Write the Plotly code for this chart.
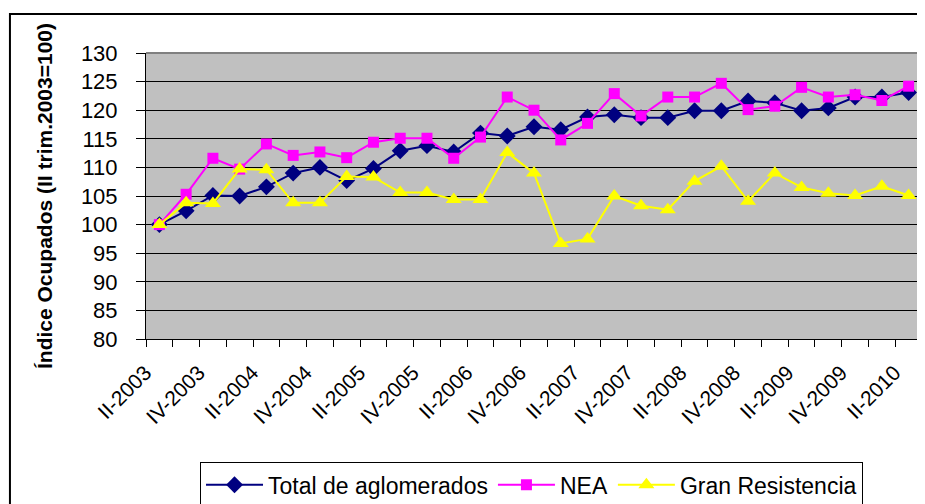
import plotly.graph_objects as go

quarters = ["II-2003", "III-2003", "IV-2003",
            "I-2004", "II-2004", "III-2004", "IV-2004",
            "I-2005", "II-2005", "III-2005", "IV-2005",
            "I-2006", "II-2006", "III-2006", "IV-2006",
            "I-2007", "II-2007", "III-2007", "IV-2007",
            "I-2008", "II-2008", "III-2008", "IV-2008",
            "I-2009", "II-2009", "III-2009", "IV-2009",
            "I-2010", "II-2010"]

total_aglomerados = [100.0, 102.4, 105.1, 105.0, 106.6, 109.0, 110.0, 107.7, 109.8, 112.9,
                     113.8, 112.7, 116.0, 115.5, 117.1, 116.6, 118.8, 119.2, 118.7, 118.7,
                     119.9, 119.9, 121.6, 121.3, 119.9, 120.4, 122.3, 122.3, 123.1]
nea = [100.0, 105.3, 111.6, 109.7, 114.1, 112.1, 112.7, 111.7, 114.4, 115.1,
       115.1, 111.6, 115.3, 122.3, 120.0, 114.8, 117.7, 122.9, 119.0, 122.3,
       122.3, 124.7, 120.1, 120.7, 124.0, 122.3, 122.7, 121.7, 124.2]
gran_resistencia = [100.0, 103.8, 103.7, 109.7, 109.6, 103.8, 103.8, 108.4, 108.3, 105.6,
                    105.6, 104.4, 104.4, 112.6, 109.0, 96.7, 97.5, 105.0, 103.3, 102.6,
                    107.6, 110.2, 104.1, 109.0, 106.5, 105.5, 105.1, 106.7, 105.1]

tick_text = [q if i % 2 == 0 else "" for i, q in enumerate(quarters)]

FONT = "Arial, Liberation Sans, sans-serif"
OFF = 8  # default page body margin
W, H = 925 - OFF, 504 - OFF
L = 146 - OFF
T = 53 - OFF
R = W - (921.7 - OFF)
B = H - (339.5 - OFF)
pw = W - L - R
ph = H - T - B

def px_x(p):
    return (p - OFF - L) / pw

def px_y(p):
    return (H - B - (p - OFF)) / ph

fig = go.Figure()
fig.add_trace(go.Scatter(x=quarters, y=total_aglomerados, name="Total de aglomerados",
                         mode="lines+markers",
                         line=dict(color="#000080", width=2),
                         marker=dict(symbol="diamond", size=13, color="#000080")))
fig.add_trace(go.Scatter(x=quarters, y=nea, name="NEA",
                         mode="lines+markers",
                         line=dict(color="#FF00FF", width=2),
                         marker=dict(symbol="square", size=11, color="#FF00FF")))
fig.add_trace(go.Scatter(x=quarters, y=gran_resistencia, name="Gran Resistencia",
                         mode="lines+markers",
                         line=dict(color="#FFFF00", width=2),
                         marker=dict(symbol="triangle-up", size=14, color="#FFFF00")))

fig.update_layout(
    width=W, height=H,
    margin=dict(l=L, r=R, t=T, b=B, autoexpand=False),
    paper_bgcolor="white",
    plot_bgcolor="#C0C0C0",
    font=dict(family=FONT, size=21, color="black"),
    showlegend=True,
    legend=dict(orientation="h", x=px_x(200), y=px_y(463), xanchor="left", yanchor="top",
                bgcolor="white", bordercolor="black", borderwidth=1,
                font=dict(family=FONT, size=23, color="black"),
                itemwidth=57, tracegroupgap=0),
    xaxis=dict(type="category", categoryorder="array", categoryarray=quarters,
               tickmode="array", tickvals=quarters, ticktext=tick_text,
               tickson="boundaries", ticks="outside", ticklen=7, tickcolor="black",
               tickangle=-45, showgrid=False, showline=True, linecolor="black",
               linewidth=1, tickfont=dict(family=FONT, size=21, color="black"),
               ticklabelshift=-14, ticklabelstandoff=12,
               range=[-0.5, len(quarters) - 0.5]),
    yaxis=dict(range=[80, 130], dtick=5, tick0=80, ticks="outside", ticklen=9,
               tickcolor="black", showline=True, linecolor="black", linewidth=1,
               showgrid=True, gridcolor="#000000", gridwidth=1, zeroline=False,
               tickfont=dict(family=FONT, size=22, color="black"),
               ticklabelstandoff=14,
               title=dict(text="<b>Índice Ocupados (II trim.2003=100)</b>",
                          font=dict(family=FONT, size=21, color="black"),
                          standoff=22)),
)

# plot area border (gray top/right)
fig.add_shape(type="line", xref="paper", yref="paper", x0=0, x1=1, y0=1, y1=1,
              line=dict(color="#808080", width=2))
fig.add_shape(type="line", xref="paper", yref="paper", x0=1, x1=1, y0=0, y1=1,
              line=dict(color="#808080", width=2))
# outer chart border
fig.add_shape(type="rect", xref="paper", yref="paper",
              x0=px_x(10), x1=px_x(935), y0=px_y(515), y1=px_y(14),
              line=dict(color="black", width=2))

fig.write_html("out.html")
